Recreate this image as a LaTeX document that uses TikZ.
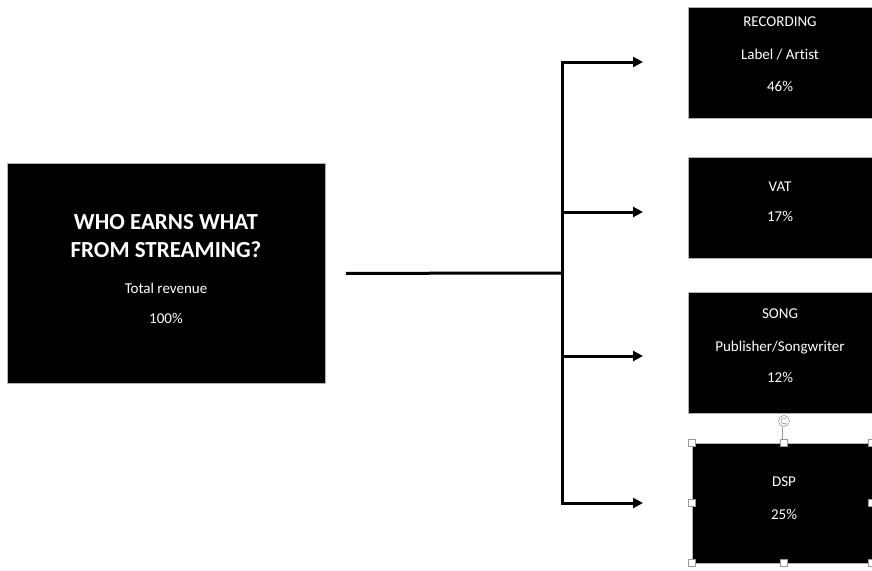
\documentclass[tikz,border=0pt]{standalone}
\usepackage{fontspec}
\setmainfont{Carlito}[Ligatures=NoCommon]
\usetikzlibrary{arrows.meta}
\begin{document}
\begin{tikzpicture}[x=1pt,y=-1pt,
  box/.style={draw=gray!60, line width=0.8pt, fill=black, inner sep=0pt, anchor=north west},
  lbl/.style={text=white, font=\fontsize{15}{18}\selectfont, anchor=base, inner sep=0pt},
  ttl/.style={text=white, font=\bfseries\fontsize{23}{27}\selectfont, anchor=base, inner sep=0pt},
  conn/.style={line width=3pt, line join=miter},
  tip/.style={-{Triangle[length=10pt,width=10pt]}},
  handle/.style={draw=gray!80, fill=white, line width=0.6pt, minimum size=7pt, inner sep=0pt, rectangle}]
\useasboundingbox (0,0) rectangle (872,570);

% boxes
\node[box, minimum width=318pt, minimum height=220pt] (main) at (7,163) {};
\node[box, minimum width=200pt, minimum height=111pt] (rec) at (688,7) {};
\node[box, minimum width=200pt, minimum height=101pt] (vat) at (688,157) {};
\node[box, minimum width=200pt, minimum height=121pt] (song) at (688,292) {};
\node[box, minimum width=180pt, minimum height=120pt] (dsp) at (692,443) {};

% texts
\node[ttl] (t1) at (166,229.5) {WHO EARNS WHAT};
\node[ttl] (t2) at (166,257.5) {FROM STREAMING?};
\node[lbl] (t3) at (166,293) {Total revenue};
\node[lbl] (t4) at (166,323) {100\%};

\node[lbl] (r1) at (780,27) {RECORDING};
\node[lbl] (r2) at (780,59) {Label / Artist};
\node[lbl] (r3) at (780,91) {46\%};

\node[lbl] (v1) at (780,191) {VAT};
\node[lbl] (v2) at (780,221) {17\%};

\node[lbl] (s1) at (780,318) {SONG};
\node[lbl] (s2) at (780,351) {Publisher/Songwriter};
\node[lbl] (s3) at (780,382) {12\%};

\node[lbl] (d1) at (784,486) {DSP};
\node[lbl] (d2) at (784,519) {25\%};

% connectors
\coordinate (j) at (562,273);
\coordinate (ta) at (562,62);
\coordinate (tb) at (562,212);
\coordinate (tc) at (562,356);
\coordinate (td) at (562,503);
\coordinate (ea) at (643,62);
\coordinate (eb) at (643,212);
\coordinate (ec) at (643,356);
\coordinate (ed) at (643,503);

\draw[conn] ([xshift=20pt]main.east) -- (j);
\draw[conn, {Triangle[length=10pt,width=10pt]}-{Triangle[length=10pt,width=10pt]}] (ea) -- (ta) -- (td) -- (ed);
\draw[conn, tip] (tb) -- (eb);
\draw[conn, tip] (tc) -- (ec);

% selection handles on DSP box
\draw[gray!80, line width=0.6pt] (dsp.north) -- ++(0,-16);
\node[draw=gray!80, fill=white, circle, minimum size=11pt, inner sep=0pt, line width=0.6pt] (rot) at (784,421) {};
\draw[gray!80, line width=0.6pt, -{Stealth[length=2pt,width=2.5pt]}] ([shift={(40:3pt)}]rot.center) arc[start angle=40, end angle=320, radius=3pt];
\foreach \n/\p in {h1/{(692,443)}, h2/{(784,443)}, h3/{(872,443)}, h4/{(692,503)}, h5/{(872,503)}, h6/{(692,563)}, h7/{(784,563)}, h8/{(872,563)}}
  \node[handle] (\n) at \p {};
\end{tikzpicture}
\end{document}
